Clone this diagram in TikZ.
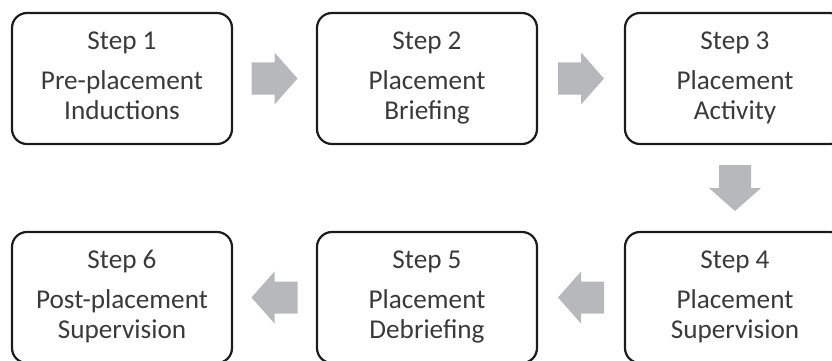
\documentclass[tikz,border=0pt]{standalone}
\usepackage{fontspec}
\setmainfont{Carlito}
\usetikzlibrary{calc}
\definecolor{boxline}{RGB}{28,28,28}
\definecolor{boxtext}{RGB}{58,58,58}
\definecolor{arrowgray}{RGB}{183,184,187}
\tikzset{
  stepbox/.style={draw=boxline, line width=2.2pt, rounded corners=15pt,
    minimum width=220pt, minimum height=131pt, inner sep=0pt},
  steplabel/.style={anchor=base, inner sep=0pt, text=boxtext,
    font=\fontsize{27.2}{30}\selectfont},
  blockarrow/.pic={
    \fill[arrowgray] (-23pt,-16pt) -- (0pt,-16pt) -- (0pt,-26pt) -- (23pt,0pt)
      -- (0pt,26pt) -- (0pt,16pt) -- (-23pt,16pt) -- cycle;
  }
}
% a step box with its three lines of text, baselines measured from the top edge
\newcommand\stepnode[5]{%
  \node[stepbox] (#1) at (#2) {};
  \node[steplabel] (#1a) at ($(#1.north)+(0,38)$) {#3};
  \node[steplabel] (#1b) at ($(#1.north)+(0,78)$) {#4};
  \node[steplabel] (#1c) at ($(#1.north)+(0,108)$) {#5};
}
\begin{document}
\begin{tikzpicture}[x=1pt,y=-1pt]
  \path[use as bounding box] (0,0) rectangle (832,361);
  \clip (0,0) rectangle (832,361);

  \stepnode{s1}{122,78.5}{Step 1}{Pre-placement}{Inductions}
  \stepnode{s2}{427,78.5}{Step 2}{Placement}{Briefing}
  \stepnode{s3}{735,78.5}{Step 3}{Placement}{Activity}
  \stepnode{s4}{735,297.5}{Step 4}{Placement}{Supervision}
  \stepnode{s5}{427,297.5}{Step 5}{Placement}{Debriefing}
  \stepnode{s6}{122,297.5}{Step 6}{Post-placement}{Supervision}

  \pic at ($(s1.east)!0.5!(s2.west)$) {blockarrow};
  \pic at ($(s2.east)!0.5!(s3.west)$) {blockarrow};
  \pic[rotate=-90] at ($(s3.south)!0.5!(s4.north)$) {blockarrow};
  \pic[rotate=180] at ($(s4.west)!0.5!(s5.east)$) {blockarrow};
  \pic[rotate=180] at ($(s5.west)!0.5!(s6.east)$) {blockarrow};
\end{tikzpicture}
\end{document}
